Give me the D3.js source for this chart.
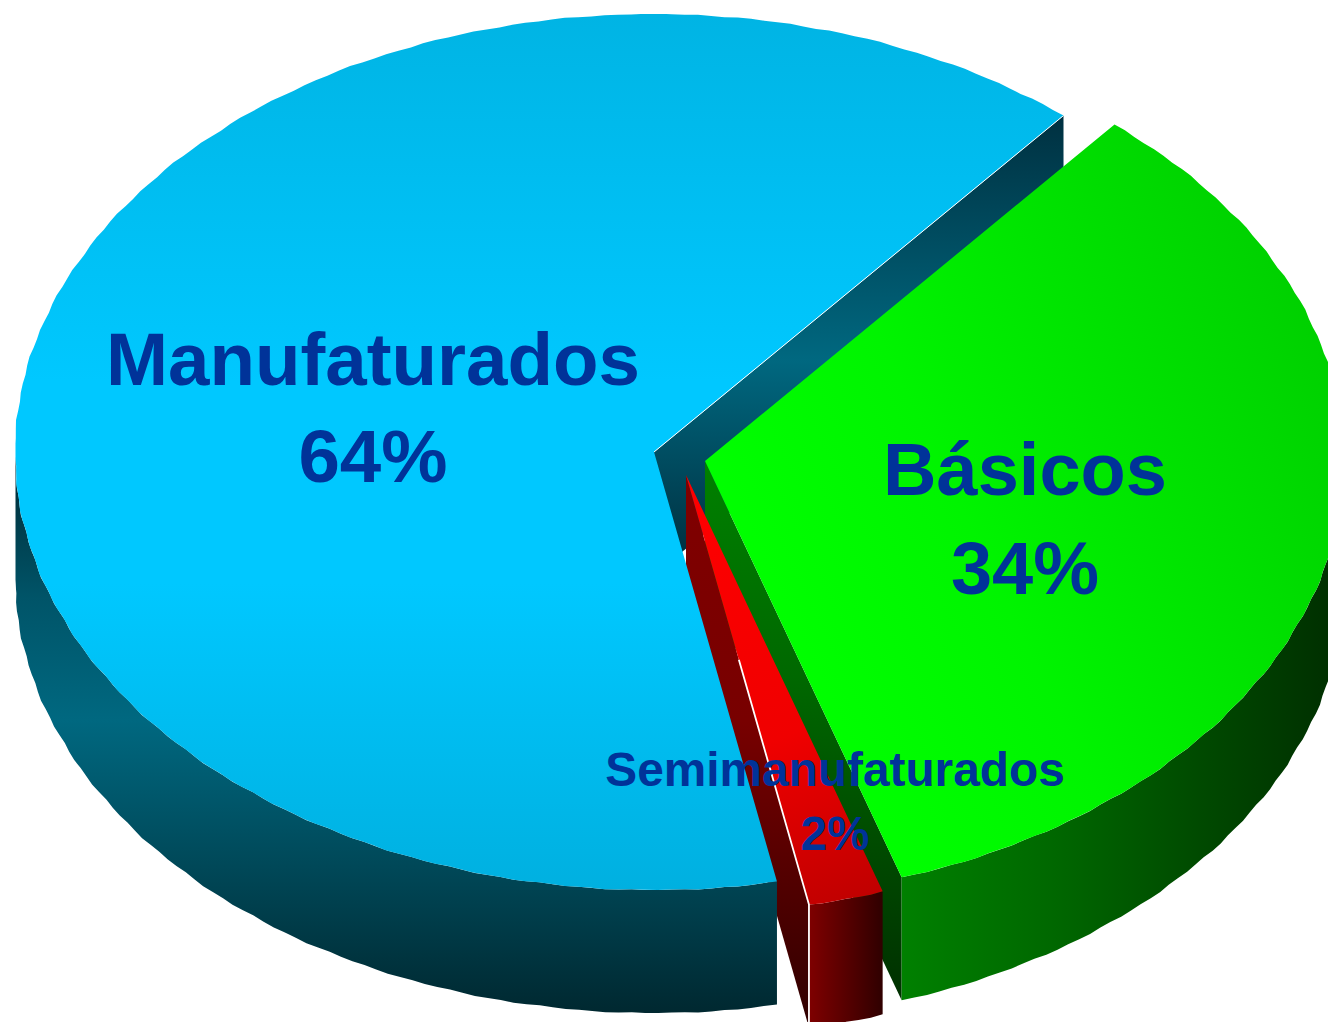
<!DOCTYPE html>
<html><head><meta charset="utf-8">
<style>html,body{margin:0;padding:0;background:#fff}svg{display:block}</style>
<script src="https://cdn.jsdelivr.net/npm/d3@7"></script></head><body>
<svg id="c" width="1328" height="1022"></svg>
<script>
const categories = ["Básicos","Semimanufaturados","Manufaturados"];
const values = [33.95,1.9,64.15];
const percentLabels = ["34%","2%","64%"];

(function(){
const W=1328,H=1022,rx=639,ry=438,depth=123;
const centers=[[705,461],[686,475],[654,452]];
const labelPos=[[1025,495,594,74],[835,786,850,47.8],[373,385,482,74.5]];
const svg=d3.select("#c");
const defs=svg.append("defs");
function grad(id,x1,y1,x2,y2,stops){
  const g=defs.append("linearGradient").attr("id",id).attr("gradientUnits","userSpaceOnUse")
   .attr("x1",x1).attr("y1",y1).attr("x2",x2).attr("y2",y2);
  stops.forEach(([o,c])=>g.append("stop").attr("offset",o).attr("stop-color",c));
}
defs.append("clipPath").attr("id","frame").append("rect").attr("x",15.5).attr("y",14).attr("width",W).attr("height",H);
grad("blueTop",0,14,0,890,[[0,"#00b4e4"],[.42,"#00c8ff"],[.65,"#00c8ff"],[1,"#00b0e0"]]);
grad("blueInner",0,115,0,560,[[0,"#003040"],[.55,"#006880"],[1,"#003040"]]);
grad("blueOuter",0,480,0,1013,[[0,"#00303c"],[.22,"#005468"],[.45,"#006880"],[1,"#002830"]]);
grad("greenTop",760,600,1328,330,[[0,"#00ff00"],[.35,"#00f400"],[1,"#00d000"]]);
grad("greenOuter",902,0,1328,0,[[0,"#008000"],[.35,"#006800"],[1,"#003000"]]);
grad("greenInner",0,461,0,1000,[[0,"#008000"],[.4,"#006800"],[1,"#003000"]]);
grad("redTop",700,480,860,900,[[0,"#ff0000"],[.6,"#f00000"],[1,"#c00000"]]);
grad("redOuter",808,0,884,0,[[0,"#800000"],[1,"#2e0000"]]);
grad("redInner",0,475,0,1022,[[0,"#800000"],[.45,"#780000"],[1,"#300000"]]);

const start=39.84*Math.PI/180;
const pie=d3.pie().sort(null).startAngle(start).endAngle(start+2*Math.PI);
const arcs=pie(values);
const sx=d3.scaleLinear().domain([-1,1]).range([-rx,rx]);
const sy=d3.scaleLinear().domain([-1,1]).range([-ry,ry]);
const ripple=a=>1+0.0009*Math.cos(a*88)+0.0005*Math.cos(a*37);
const pt=(c,a,dy=0)=>{const r=ripple(a);return [c[0]+sx(Math.sin(a)*r),c[1]-sy(Math.cos(a)*r)+dy];};
const samples=(a0,a1)=>{const n=Math.max(2,Math.ceil((a1-a0)/(1.2*Math.PI/180)));return d3.range(n+1).map(i=>a0+(a1-a0)*i/n);};
const line=d3.line();
const topFace=(c,d)=>line([c,...samples(d.startAngle,d.endAngle).map(a=>pt(c,a))])+"Z";
const outer=(c,a0,a1)=>{const s=samples(a0,a1);return line([...s.map(a=>pt(c,a)),...s.slice().reverse().map(a=>pt(c,a,depth))])+"Z";};
const edgeWall=(c,a)=>{const p=pt(c,a);return line([c,p,[p[0],p[1]+depth],[c[0],c[1]+depth]])+"Z";};
const [bas,sem,man]=arcs,[cb,cs,cm]=centers;
const PI=Math.PI;
const g=svg.append("g").attr("clip-path","url(#frame)");
const P=(d,f)=>g.append("path").attr("d",d).attr("fill",f);
// back walls first
P(edgeWall(cm,man.endAngle),"url(#blueInner)");
P(edgeWall(cb,bas.endAngle),"url(#greenInner)");
P(outer(cb,PI/2-0.2,bas.endAngle),"url(#greenOuter)");
P(edgeWall(cs,sem.endAngle),"url(#redInner)");
P(outer(cs,sem.startAngle,sem.endAngle),"url(#redOuter)");
P(outer(cm,man.startAngle,3*PI/2),"url(#blueOuter)");
// tops
P(topFace(cm,man),"url(#blueTop)");
P(topFace(cb,bas),"url(#greenTop)");
P(topFace(cs,sem),"url(#redTop)");
// highlights
const pe=pt(cm,man.endAngle);
g.append("line").attr("x1",cm[0]).attr("y1",cm[1]).attr("x2",pe[0]).attr("y2",pe[1]).attr("stroke","#fff").attr("stroke-width",1);
const re=pt(cs,sem.endAngle),t=0.43;
g.append("path").attr("d",line([[cs[0]+(re[0]-cs[0])*t,cs[1]+(re[1]-cs[1])*t],re,[re[0],H]]))
 .attr("fill","none").attr("stroke","#fff").attr("stroke-width",1.8);
// labels
const lab=svg.append("g").attr("font-family","'Liberation Sans',Arial,sans-serif").attr("font-weight","bold").attr("fill","#003399").attr("text-anchor","middle");
categories.forEach((n,i)=>{const [x,y1,y2,fs]=labelPos[i];
 lab.append("text").attr("x",x).attr("y",y1).attr("font-size",fs).text(n);
 lab.append("text").attr("x",x).attr("y",y2).attr("font-size",fs).text(percentLabels[i]);});
})();
</script></body></html>
